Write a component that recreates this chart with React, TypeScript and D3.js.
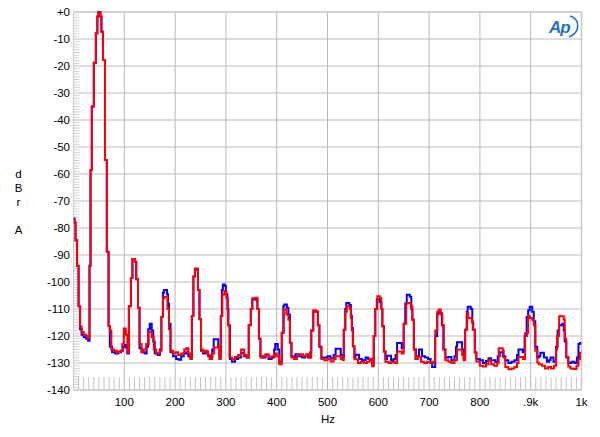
import React from "react";
import * as d3 from "d3";

const yTicks = [0, -10, -20, -30, -40, -50, -60, -70, -80, -90, -100, -110, -120, -130, -140];
const yTickLabels = ["+0", "-10", "-20", "-30", "-40", "-50", "-60", "-70", "-80", "-90", "-100", "-110", "-120", "-130", "-140"];
const xTicks = [100, 200, 300, 400, 500, 600, 700, 800, 900, 1000];
const xTickLabels = ["100", "200", "300", "400", "500", "600", "700", "800", ".9k", "1k"];
const yLabelLetters = ["d", "B", "r", "", "A"];

const bluePoints: [number, number][] = [
  [0, -76.5], [2, -78], [4, -84.5], [7, -94], [10, -109], [13, -117.5], [16, -119.5], [20, -120.5], [25, -121], [29, -121.8],
  [31.5, -94], [33.5, -58.5], [36, -35], [40, -18.8], [44, -7.9], [47, -1.7], [49, 0], [53, -1.7], [55, -7.3], [58, -17.8],
  [62, -54.8], [65.6, -88.8], [69, -116.3], [71.5, -124], [76, -126], [82, -126.5], [88, -126], [94, -125.5], [97, -124],
  [101, -123.3], [104, -124.5], [106, -126.5], [109, -109], [113, -98.5], [116, -91.5], [121, -92.5], [123.5, -99], [127, -109.5],
  [130, -124.5], [134, -126], [140, -126.5], [144, -124], [147, -117.5], [150, -115.5], [154, -118], [157, -122], [160, -126.5],
  [166, -127], [170, -125], [173, -113], [176, -104], [178, -103], [184, -104.5], [186, -108], [188, -115.5], [191, -126],
  [196, -127.5], [202, -128.5], [207, -128.8], [212, -127.5], [217, -126.5], [222, -126], [226, -127.5], [230, -128],
  [233, -112.6], [236, -98], [239, -95.5], [245, -103], [248, -113.8], [251, -125.5], [255, -126.5], [260, -126], [265, -127.5],
  [270, -127.8], [273, -125], [276, -121.2], [285, -124], [287, -127.5], [290, -112.6], [292, -103], [294, -100.9], [298, -101.5],
  [300, -104.5], [303, -110], [305, -116], [308, -128.5], [312, -129.5], [318, -128.5], [324, -128], [330, -126.3], [336, -127.5],
  [341, -128], [345, -116], [349, -110], [352, -106.5], [358, -106.5], [362, -110], [365, -121], [368, -127.5], [372, -128],
  [378, -127], [384, -128.5], [390, -128], [395, -125], [397, -123], [402, -125], [405, -129.5], [410, -118.8], [413, -109],
  [415, -108.3], [420, -109.5], [423, -112], [426, -122.5], [429, -127.5], [434, -128], [437, -126.8], [443, -127.5], [450, -128],
  [456, -127.5], [462, -128], [466, -126], [468, -118], [472, -111], [477, -111], [481, -116], [484, -124], [488, -128],
  [494, -128], [500, -127.5], [506, -128.3], [512, -127], [516, -124.7], [526, -127], [530, -128], [532, -117.7], [535, -110],
  [537, -107.8], [543, -108.5], [546, -112.5], [548, -117], [550, -123.8], [553, -128], [555, -126.9], [562, -128.5], [568, -129],
  [575, -128], [580, -128.5], [585, -129], [588, -130.5], [591, -120], [594, -110], [597, -106.5], [603, -107.5], [606, -110],
  [608, -116.4], [611, -125.7], [614, -128.5], [617, -127.3], [625, -129], [630, -128.5], [634, -127], [637, -122.6], [646, -124.5],
  [650, -115.5], [653, -108], [656, -104.7], [662, -105.5], [665, -110], [667, -114], [670, -125], [674, -127.5], [680, -125],
  [686, -127.5], [692, -128], [698, -128.5], [703, -130], [706, -131.5], [712, -120], [716, -112], [718, -111], [722, -111.5],
  [725, -116], [728, -125], [732, -128], [738, -127.8], [744, -129], [750, -127.5], [753, -124], [755, -122.3], [765, -125],
  [768, -128], [771, -117.7], [774, -111], [776, -109.2], [782, -110], [785, -115], [787, -117.7], [790, -126], [793, -128.5],
  [800, -129], [806, -130], [812, -129.3], [817, -128.2], [822, -129], [830, -129.5], [835, -127.5], [839, -126], [845, -127.5],
  [850, -129], [856, -130], [862, -129.5], [868, -129], [873, -127], [876, -125], [884, -126], [888, -120], [892, -113],
  [895, -110.5], [898, -109.2], [903, -111], [906, -114.5], [909, -124], [913, -128], [916, -127.5], [919, -126.2], [926, -128],
  [932, -129.5], [936, -129], [939, -128], [945, -129.5], [950, -124], [953, -118], [956, -116], [962, -115.5], [965, -118],
  [967, -122], [970, -128], [974, -130], [980, -129.5], [986, -130], [991, -128], [994, -123], [997, -122.6], [1000, -122.6],
];

const redPoints: [number, number][] = [
  [0, -77], [2, -78], [4, -84.5], [7, -94], [10, -109], [13, -116.5], [16, -118.5], [20, -119.5], [25, -120], [29, -120.8],
  [31.5, -94], [33.5, -58.5], [36, -35], [40, -18.8], [44, -7.9], [47, -1.7], [49, 0], [53, -1.7], [55, -7.3], [58, -17.8],
  [62, -54.8], [65.6, -88.8], [69, -116.3], [71.5, -118], [74.5, -125], [80, -125.5], [86, -126], [92, -125.5], [96, -123],
  [99, -117.2], [103, -119.5], [106, -126], [109, -109], [113, -98.5], [116, -91.5], [121, -92.5], [123.5, -99], [127, -109.5],
  [130, -123], [134, -126], [138, -125], [143, -123], [148, -118.5], [154, -120.5], [158, -125], [163, -126.5], [170, -125.5],
  [173, -113], [176, -106], [179, -105.5], [185, -110], [188, -117.5], [191, -125.5], [196, -126.5], [201, -126], [206, -127],
  [212, -126.5], [218, -125], [222, -124.5], [226, -126.5], [230, -128.5], [233, -112.6], [236, -98], [239, -95], [245, -103],
  [248, -113.8], [251, -125], [255, -126], [259, -125.5], [264, -127], [268, -128.5], [273, -126.5], [277, -124.3], [284, -124],
  [287, -128.5], [290, -112.6], [293, -104.6], [297, -103.3], [301, -106], [304, -116], [307, -128], [312, -128.5], [318, -127.8],
  [324, -127], [330, -125], [336, -127], [341, -128], [345, -116], [349, -110], [352, -106], [358, -105.8], [362, -110],
  [365, -121], [368, -128], [372, -127.5], [378, -126.8], [384, -128], [390, -127.5], [396, -126.5], [400, -127.5], [405, -130.5],
  [410, -118.8], [414, -110.1], [419, -112], [423, -114], [426, -122.5], [429, -128], [434, -128.5], [440, -127], [446, -126.8],
  [452, -127.5], [458, -126.8], [464, -128], [468, -118], [472, -110.5], [477, -110.8], [481, -116], [484, -124], [488, -128.5],
  [494, -129], [500, -128.5], [506, -129.4], [512, -128.5], [516, -127.5], [526, -128.5], [530, -129], [532, -117.7], [535, -111],
  [538, -109], [544, -110], [546, -113.3], [548, -118], [550, -123.8], [553, -128.6], [560, -130], [566, -129.5], [572, -130],
  [578, -129.5], [583, -128.4], [588, -131.2], [591, -120], [594, -110], [598, -105.3], [603, -106], [606, -110], [608, -116.4],
  [611, -125.7], [614, -129.5], [620, -130], [626, -129.5], [632, -130], [637, -125.7], [646, -126.5], [650, -115.5], [655, -108],
  [658, -107.8], [664, -109], [667, -114], [670, -125], [673, -128.5], [678, -127.7], [684, -129.5], [690, -130], [696, -129.5],
  [702, -130], [708, -129.5], [712, -118], [716, -111], [719, -110.2], [723, -112], [726, -116], [729, -125], [732, -129],
  [738, -129.5], [744, -130], [750, -129], [755, -125], [765, -127], [768, -129], [771, -117.7], [775, -111.5], [777, -113.3],
  [784, -114.5], [786, -117.7], [790, -126.2], [793, -129.4], [800, -131], [806, -131.3], [812, -130.5], [817, -129], [822, -130.5],
  [828, -131], [834, -130], [837, -124.5], [845, -125.5], [847, -128], [850, -131.5], [856, -132.3], [862, -132], [868, -131.5],
  [873, -130], [876, -127.8], [885, -128.5], [889, -119], [895, -112.6], [898, -113.3], [903, -114], [906, -116], [909, -125.5],
  [913, -129.8], [916, -130.5], [922, -131], [928, -132], [934, -131.5], [940, -132], [946, -131], [950, -125], [952, -120],
  [956, -112.7], [965, -114], [967, -121], [970, -127.8], [974, -131.3], [978, -132], [984, -132.2], [990, -131], [994, -128.5],
  [997, -126.2], [1000, -126.2],
];

const W = 600;
const H = 437;
const LEFT = 73.5;
const RIGHT = 581.5;
const TOP = 12;
const BOTTOM = 390;
const FONT = "'Liberation Sans', Arial, sans-serif";

export default function App() {
  const x = d3.scaleLinear().domain([0, 1000]).range([LEFT, RIGHT]);
  const y = d3.scaleLinear().domain([-140, 0]).range([BOTTOM, TOP]);
  const line = d3
    .line<[number, number]>()
    .x((d) => x(d[0]))
    .y((d) => y(d[1]))
    .curve(d3.curveStepAfter);

  const minorY = d3.range(-139, 0, 1).filter((v) => v % 10 !== 0);
  const minorX = d3.range(10, 1000, 10).filter((v) => v % 100 !== 0);
  const gridX = d3.range(100, 1000, 100);

  return (
    <svg width={W} height={H} style={{ position: "absolute", left: 0, top: 0, background: "#fff" }}>
      <defs>
        <clipPath id="plotclip">
          <rect x={LEFT} y={TOP - 2} width={RIGHT - LEFT} height={BOTTOM - TOP + 2} />
        </clipPath>
      </defs>
      {/* horizontal grid */}
      {yTicks.map((t) => (
        <line key={"h" + t} x1={LEFT} x2={RIGHT} y1={y(t)} y2={y(t)} stroke="#d2d2d2" strokeWidth={1.5} />
      ))}
      {/* vertical grid */}
      {gridX.map((t) => (
        <line key={"v" + t} x1={x(t)} x2={x(t)} y1={TOP} y2={BOTTOM} stroke="#b8b8b8" strokeWidth={1} />
      ))}
      {/* minor ticks left */}
      {minorY.map((t) => (
        <line key={"my" + t} x1={LEFT} x2={LEFT + 6} y1={y(t)} y2={y(t)} stroke="#c4c4c4" strokeWidth={0.8} />
      ))}
      {/* minor ticks bottom */}
      {minorX.map((t) => (
        <line key={"mx" + t} x1={x(t)} x2={x(t)} y1={BOTTOM - 13} y2={BOTTOM} stroke="#c4c4c4" strokeWidth={1} />
      ))}
      {/* frame */}
      <rect x={LEFT} y={TOP} width={RIGHT - LEFT} height={BOTTOM - TOP} fill="none" stroke="#c8c8c8" strokeWidth={1} />
      <line x1={RIGHT} x2={RIGHT} y1={TOP} y2={BOTTOM} stroke="#c8c8c8" strokeWidth={1.5} />

      {/* data */}
      <g clipPath="url(#plotclip)">
        <path d={line(bluePoints) || ""} fill="none" stroke="#0000ff" strokeWidth={2} strokeLinejoin="miter" />
        <path d={line(redPoints) || ""} fill="none" stroke="#ff0000" strokeWidth={2} strokeLinejoin="miter" />
      </g>

      {/* y tick labels */}
      {yTicks.map((t, i) => (
        <text key={"yl" + t} x={70} y={y(t)} dy="0.35em" textAnchor="end" fontFamily={FONT} fontSize={11.5} fill="#000">
          {yTickLabels[i]}
        </text>
      ))}
      {/* x tick labels */}
      {xTicks.map((t, i) => (
        <text key={"xl" + t} x={x(t)} y={406} textAnchor="middle" fontFamily={FONT} fontSize={11.5} fill="#000">
          {xTickLabels[i]}
        </text>
      ))}
      <text x={328} y={423} textAnchor="middle" fontFamily={FONT} fontSize={11.5} fill="#000">
        Hz
      </text>
      {/* y axis label */}
      {yLabelLetters.map((c, i) => (
        <text key={"lab" + i} x={18.5} y={178 + i * 14} textAnchor="middle" fontFamily={FONT} fontSize={11.5} fill="#000">
          {c}
        </text>
      ))}
      {/* AP logo */}
      <g>
        <text x={549} y={33} fontFamily={FONT} fontSize={17} fontStyle="italic" fontWeight="bold" fill="#1f74bd" letterSpacing={-1}>
          Ap
        </text>
        <path d="M570,16 C580,19 581,32 569,37" fill="none" stroke="#1f74bd" strokeWidth={1.6} />
      </g>
    </svg>
  );
}
